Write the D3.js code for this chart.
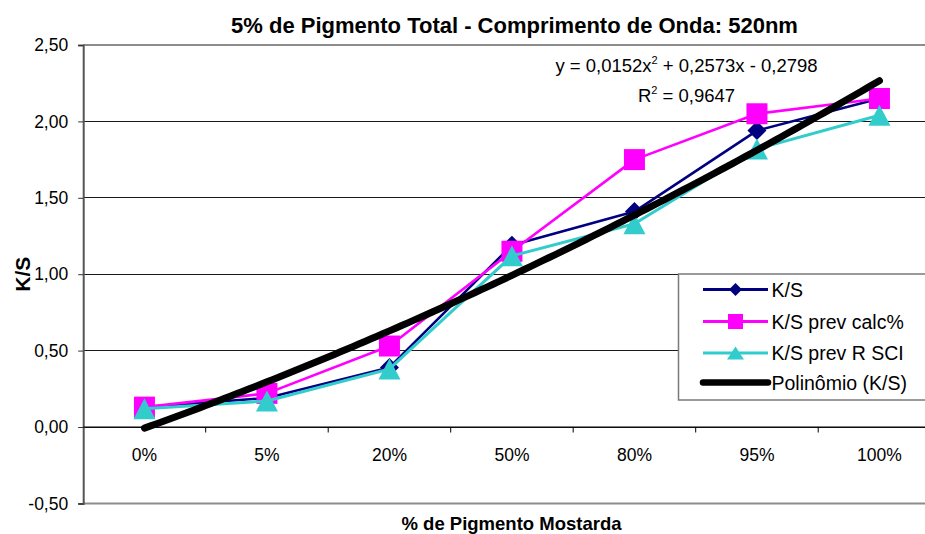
<!DOCTYPE html>
<html>
<head>
<meta charset="utf-8">
<script src="https://cdn.jsdelivr.net/npm/d3@7"></script>
<style>
  html, body { margin: 0; padding: 0; background: #fff; }
  svg { display: block; font-family: Arial, "Liberation Sans", sans-serif; }
</style>
</head>
<body>
<svg id="chart" width="925" height="534"></svg>
<script>
// Categories on the x axis (% of mustard pigment)
const categories = ["0%", "5%", "20%", "50%", "80%", "95%", "100%"];

// Measured and predicted K/S series
const ksValues   = [0.13, 0.19, 0.39, 1.19, 1.41, 1.94, 2.15];
const calcValues = [0.13, 0.22, 0.53, 1.15, 1.75, 2.05, 2.15];
const sciValues  = [0.12, 0.17, 0.38, 1.12, 1.33, 1.82, 2.04];

// Second-order polynomial trendline of K/S: y = a x^2 + b x + c (x = 1..7)
const polyCoeffs = [0.0152, 0.2573, -0.2798];
const rSquared = 0.9647;

// Value axis ticks
const yTicks = [-0.5, 0, 0.5, 1, 1.5, 2, 2.5];

const seriesNames = ["K/S", "K/S prev calc%", "K/S prev R SCI", "Polinômio (K/S)"];

const locale = d3.formatLocale({ decimal: ",", thousands: ".", grouping: [3], currency: ["", ""], minus: "-" });
const fmt2 = locale.format(".2f");
const fmt4 = locale.format(".4f");

const svg = d3.select("#chart");
const plot = { left: 83.2, right: 940.7, top: 45, bottom: 503.4 };

const x = d3.scaleBand().domain(categories).range([plot.left, plot.right]).paddingInner(0).paddingOuter(0);
const xc = c => x(c) + x.bandwidth() / 2;
const y = d3.scaleLinear().domain([-0.5, 2.5]).range([plot.bottom, plot.top]);

// Gridlines
svg.append("g").selectAll("line").data(yTicks.filter(v => v > -0.5 && v < 2.5)).join("line")
  .attr("x1", plot.left).attr("x2", plot.right)
  .attr("y1", d => y(d)).attr("y2", d => y(d))
  .attr("stroke", "#1a1a1a").attr("stroke-width", 1).attr("shape-rendering", "crispEdges");

// Plot frame: top and bottom borders
svg.append("line").attr("x1", plot.left).attr("x2", plot.right).attr("y1", y(2.5)).attr("y2", y(2.5))
  .attr("stroke", "#8c8c8c").attr("stroke-width", 2);
svg.append("line").attr("x1", plot.left).attr("x2", plot.right).attr("y1", y(-0.5)).attr("y2", y(-0.5))
  .attr("stroke", "#8c8c8c").attr("stroke-width", 2);

// Y axis
const yAxis = d3.axisLeft(y).tickValues(yTicks).tickFormat(fmt2).tickSize(5).tickPadding(10);
const gy = svg.append("g").attr("transform", `translate(${plot.left},0)`).call(yAxis);
gy.select(".domain").attr("stroke", "#555").attr("stroke-width", 2);
gy.selectAll(".tick line").attr("stroke", "#333");
gy.selectAll(".tick text").attr("font-size", 17.5).attr("fill", "#000").attr("font-family", "Arial, 'Liberation Sans', sans-serif");

// X axis on the zero line, ticks between categories
const gx = svg.append("g").attr("transform", `translate(0,${y(0)})`);
gx.append("line").attr("x1", plot.left).attr("x2", plot.right).attr("stroke", "#000").attr("stroke-width", 1.2);
gx.selectAll("line.tk").data(categories.slice(1)).join("line").attr("class", "tk")
  .attr("x1", d => x(d)).attr("x2", d => x(d)).attr("y1", 0).attr("y2", 5.5)
  .attr("stroke", "#000").attr("stroke-width", 1);
gx.selectAll("text").data(categories).join("text")
  .attr("x", d => xc(d)).attr("y", 34).attr("text-anchor", "middle")
  .attr("font-size", 17.5).attr("fill", "#000").text(d => d);

// Marker shapes
const diamond = s => `M0,${-s/2}L${s/2},0L0,${s/2}L${-s/2},0Z`;
const square = s => `M${-s/2},${-s/2}H${s/2}V${s/2}H${-s/2}Z`;
const triangle = (w, h) => `M0,${-h/2}L${w/2},${h/2}L${-w/2},${h/2}Z`;

const series = [
  { name: seriesNames[0], values: ksValues, color: "#000080", width: 2.6, marker: diamond(19), legendMarker: diamond(13) },
  { name: seriesNames[1], values: calcValues, color: "#ff00ff", width: 2.6, marker: square(21), legendMarker: square(15) },
  { name: seriesNames[2], values: sciValues, color: "#33cccc", width: 3, marker: triangle(22, 21), legendMarker: triangle(17, 13) }
];

const line = d3.line().x((d, i) => xc(categories[i])).y(d => y(d));

series.forEach(s => {
  const g = svg.append("g");
  g.append("path").attr("d", line(s.values)).attr("fill", "none")
    .attr("stroke", s.color).attr("stroke-width", s.width).attr("stroke-linejoin", "round");
  g.selectAll("path.m").data(s.values).join("path").attr("class", "m")
    .attr("transform", (d, i) => `translate(${xc(categories[i])},${y(d)})`)
    .attr("d", s.marker).attr("fill", s.color);
});

// Polynomial trendline
const tx = d3.scaleLinear().domain([1, categories.length]).range([xc(categories[0]), xc(categories[categories.length - 1])]);
const poly = t => polyCoeffs[0] * t * t + polyCoeffs[1] * t + polyCoeffs[2];
const tSamples = d3.range(1, categories.length + 0.001, 0.05);
svg.append("path")
  .attr("d", d3.line().x(t => tx(t)).y(t => y(poly(t)))(tSamples))
  .attr("fill", "none").attr("stroke", "#000").attr("stroke-width", 7)
  .attr("stroke-linecap", "round").attr("stroke-linejoin", "round");

// Trendline equation and R²
const eq = svg.append("g").attr("font-size", 18.5).attr("fill", "#000").attr("text-anchor", "middle");
const eqText = eq.append("text").attr("x", 686.5).attr("y", 72);
eqText.append("tspan").text(`y = ${fmt4(polyCoeffs[0])}x`);
eqText.append("tspan").attr("font-size", 11).attr("dy", -8).text("2");
eqText.append("tspan").attr("dy", 8).text(` + ${fmt4(polyCoeffs[1])}x - ${fmt4(-polyCoeffs[2])}`);
const r2Text = eq.append("text").attr("x", 686.5).attr("y", 101.5);
r2Text.append("tspan").text("R");
r2Text.append("tspan").attr("font-size", 11).attr("dy", -8).text("2");
r2Text.append("tspan").attr("dy", 8).text(` = ${fmt4(rSquared)}`);

// Legend
const legend = svg.append("g");
legend.append("rect").attr("x", 678.5).attr("y", 274).attr("width", 262).attr("height", 126)
  .attr("fill", "#fff").attr("stroke", "#7a7a7a").attr("stroke-width", 1.5);
const rowsY = [289.5, 321.5, 353, 382.5];
const legendItems = series.map(s => ({ name: s.name, color: s.color, width: 3, marker: s.legendMarker }))
  .concat([{ name: seriesNames[3], color: "#000", width: 6.5, marker: null }]);
legendItems.forEach((it, i) => {
  const g = legend.append("g").attr("transform", `translate(0,${rowsY[i]})`);
  g.append("line").attr("x1", 703).attr("x2", 768).attr("stroke", it.color).attr("stroke-width", it.width)
    .attr("stroke-linecap", it.marker ? "butt" : "round");
  if (it.marker) g.append("path").attr("transform", "translate(735.5,0)").attr("d", it.marker).attr("fill", it.color);
  g.append("text").attr("x", 771.5).attr("dy", "0.36em").attr("font-size", 19.5).attr("fill", "#000").text(it.name);
});

// Titles
svg.append("text").attr("x", 514.5).attr("y", 33).attr("text-anchor", "middle")
  .attr("font-size", 22).attr("font-weight", "bold").text("5% de Pigmento Total - Comprimento de Onda: 520nm");
svg.append("text").attr("x", 511.5).attr("y", 530).attr("text-anchor", "middle")
  .attr("font-size", 18.5).attr("font-weight", "bold").text("% de Pigmento Mostarda");
svg.append("text").attr("transform", `translate(30,${(plot.top + plot.bottom) / 2}) rotate(-90)`)
  .attr("text-anchor", "middle").attr("font-size", 21).attr("font-weight", "bold").text("K/S");
</script>
</body>
</html>
